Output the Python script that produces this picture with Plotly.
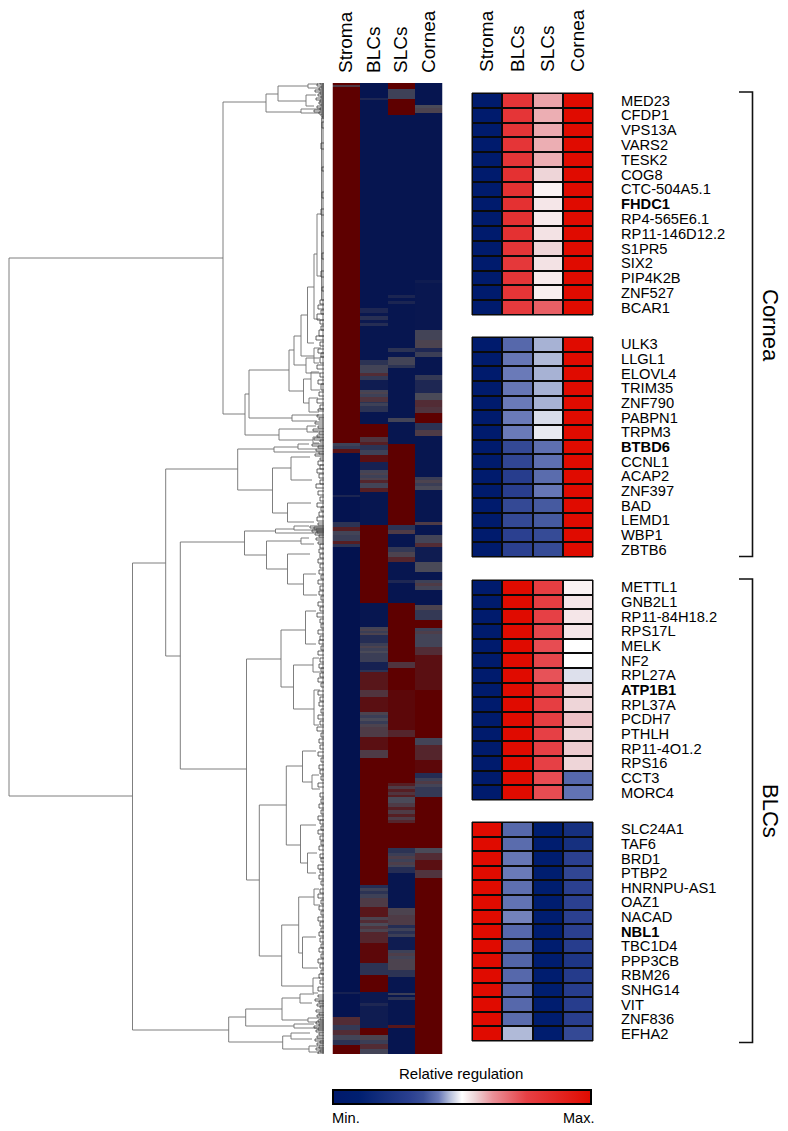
import plotly.graph_objects as go

W, H = 788, 1131
conditions = ["Stroma", "BLCs", "SLCs", "Cornea"]

# ---- overview heatmap: runs of (last row, relative level 0 = down, 1 = up)
stroma_runs = [(2,1),(4,.62),(360,1),(363,.42),(366,.35),(370,.88),(412,.02),(414,.18),(439,.03),(444,.3),(448,.8),(452,.45),(458,.4),(461,.8),(464,.3),(909,.02),(911,.15),(934,.03),(942,.7),(947,.35),(952,.7),(957,.45),(962,.3),(971,1)]
blcs_runs = [(15,.04),(17,.2),(225,.04),(230,.2),(233,.07),(237,.28),(240,.08),(243,.25),(277,.05),(282,.3),(290,.45),(293,.7),(297,.35),(307,.1),(309,.45),(311,.55),(314,.42),(319,.65),(320,.3),(323,.42),(329,.3),(341,.05),(354,1),(359,.65),(362,.8),(367,.3),(372,.42),(379,.9),(387,.15),(390,.45),(392,.55),(395,.42),(397,.55),(400,.75),(405,.45),(409,.8),(442,.05),(520,1),(544,.05),(546,.45),(548,.55),(550,.4),(552,.55),(560,.25),(563,.4),(565,.55),(568,.42),(570,.5),(579,.4),(587,.15),(589,.3),(607,.85),(614,.65),(629,.9),(632,.55),(635,.4),(638,.5),(641,.38),(644,.55),(654,.6),(667,.9),(675,.6),(802,1),(805,.25),(808,.42),(811,.3),(815,.42),(824,.6),(834,.85),(837,.55),(840,.7),(843,.5),(846,.65),(849,.55),(860,.75),(880,.95),(892,.3),(909,1),(920,.08),(923,.2),(945,.1),(952,1),(957,.55),(961,.4),(966,.7),(971,.45)]
slcs_runs = [(6,1),(16,.42),(32,1),(212,.04),(215,.18),(218,.05),(221,.18),(265,.05),(269,.3),(274,.06),(282,.45),(285,.3),(335,.05),(339,.45),(361,.05),(442,1),(447,.3),(451,.6),(464,.05),(469,.35),(474,.55),(479,.75),(497,.05),(500,.2),(520,.04),(579,1),(585,.65),(607,1),(647,.95),(654,.75),(700,1),(703,.8),(706,.6),(709,.8),(712,.65),(714,.8),(720,.5),(724,.6),(727,.8),(731,.6),(734,.8),(737,.6),(740,.75),(765,1),(770,.3),(773,.4),(776,.58),(779,.42),(782,.58),(784,.45),(790,.25),(825,.05),(832,.55),(842,.6),(845,.25),(848,.42),(851,.28),(854,.4),(867,.1),(870,.42),(873,.58),(876,.45),(880,.55),(887,.55),(894,.3),(910,.05),(912,.4),(914,.05),(917,.3),(942,.05),(945,.85),(971,.04)]
cornea_runs = [(22,.04),(25,.5),(30,.55),(197,.04),(200,.1),(247,.06),(257,.45),(265,.55),(269,.2),(274,.4),(277,.05),(292,.05),(297,.35),(310,.2),(317,.5),(324,.7),(330,.65),(340,1),(347,.3),(353,.6),(394,.05),(397,.4),(400,.55),(403,.4),(407,.5),(439,.05),(442,.6),(452,.05),(460,.45),(464,.7),(479,.1),(489,.5),(497,.05),(500,.42),(503,.6),(507,.45),(522,.04),(527,.55),(537,.35),(545,1),(548,.42),(551,.58),(555,.45),(564,.45),(572,.7),(607,.9),(655,1),(662,.45),(677,.75),(690,.95),(695,.25),(698,.42),(701,.6),(704,.45),(714,.35),(765,1),(770,.5),(777,.7),(787,.9),(795,.65),(971,1)]

# ---- dendrogram merges: (height, top row, top child height, bottom row, bottom child height)
merges = [
 (315,175,101,713,191.5),(101,19,58,331,79),(58,11,46,29,23),(46,3,16,18,18),(16,1,6,5,4),(18,12,8,23,10),(23,26,3,30,5),
 (79,311,75,352,45),(75,287,35,335,32),(35,267,30,308,20.5),(30,253,23,282,18),(23,232,16.5,273,10),(16.5,204,10,260,10),
 (10,171,7,236,4),(7,131,2.5,193,2.5),(2.5,35,0,217,0),(18,275,5,290,4),(10,265,3,280,5),(20.5,296,13,320,15),(13,289,5,307,4),
 (15,315,6,329,5),(32,332,5,338,7),(45,346,17,357,11),(17,343,8,349,6),(11,354,4,360,5),
 (191.5,480,158.3,947,95.3),(158.3,386,86.3,573,143.7),(86.3,366,50,407,51.5),(50,364,26,369,5),(26,361,15,366,8),
 (51.5,385,33,430,36.5),(33,374,14,397,12),(36.5,420,13,439,10),(143.7,459,79.5,686,77.5),(79.5,448,48.5,472,57.5),
 (48.5,446,30,450,10),(30,443,15,447,9),(57.5,458,23,486,36.5),(23,455,15,461,10),(36.5,471,14,501,20.5),(20.5,491,8,512,7),
 (77.5,576,43,797,64.7),(43,547,18.5,604,30.5),(18.5,528,8,561,8),(30.5,582,11,626,10),(11,575,5,589,4),(10,607,4,642,5),
 (64.7,722,37.7,873,42.3),(37.7,683,21.5,762,23.5),(21.5,668,8,699,12),(12,692,5,706,4),(23.5,742,8,780,16.5),(16.5,770,7,790,8),
 (42.3,842,25.3,903,11),(25.3,814,10,870,21.5),(21.5,854,8,885,6),(10,806,5,822,4),(11,895,4,910,6),
 (95.3,934,78.3,959,41.3),(78.3,926,42,943,30),(42,915,24,937,16),(24,911,10,920,12),(16,935,5,939,7),(30,941,10,945,7),
 (41.3,953,33,966,15),(33,950,14,956,12),(15,963,6,969,5),
]
# leaf-level forks: (row, half span, height)
leaf_forks = [
 (0,1,4),(2,1,7),(4,1,3),(6,1,5),(8,1,9),(10,1,4),(12,1,6),(14,1,3),(16,1,8),(18,1,4),(20,1,5),(22,1,3),(24,1,7),(26,1,4),(28,1,10),(30,1,5),(32,1,3),(34,1,2),
 (42,3,2),(63,3,3),(86,2,2),(112,3,2),(129,3,3),(151,2,2),(173,3,2),(191,3,3),(206,2,2),
 (219,2,4),(224,2,6),(229,2,3),(234,3,7),(239,2,4),(245,2,3),(250,3,5),(255,2,8),(261,2,4),(268,2,6),(272,2,3),(277,3,4),(284,2,7),(292,2,4),(299,2,6),(304,3,3),(311,2,5),(318,2,7),(324,2,4),(327,1,6),
 (333,1,7),(336,1,5),(340,1,9),(344,1,6),(347,1,11),(350,1,5),(353,1,7),(356,1,10),(358,1,4),(362,1,12),(364,1,6),(367,1,8),(370,1,5),(372,1,9),(376,1,4),(380,2,6),(384,2,4),(388,2,7),(393,2,5),(399,2,4),(403,2,8),(410,2,6),(416,2,4),(422,2,7),(426,2,3),(431,2,5),(436,2,7),(441,1,6),
 (444,1,14),(445,1,10),(447,1,8),(448,1,12),(449,1,7),(451,1,9),(453,1,5),(456,1,8),(460,1,6),(463,2,4),(468,2,5),(473,2,4),(478,2,6),(483,2,4),(489,2,5),(494,2,3),(499,2,6),(505,2,4),(510,2,5),(515,2,3),(521,2,6),(526,2,4),(532,2,7),(538,2,4),(543,2,3),(549,2,6),(555,2,4),(559,2,5),(565,2,3),(570,2,6),(577,2,4),(583,2,5),(587,2,3),(592,2,4),(597,2,6),(602,2,3),(610,2,6),(616,2,4),(621,2,5),(628,2,3),(634,2,6),(640,2,4),(646,2,7),(652,2,3),(658,2,5),(664,2,4),(671,2,6),(677,2,3),(684,2,5),(689,2,4),(695,2,3),(702,2,6),(712,2,4),(718,2,3),(723,2,5),(729,2,3),(735,2,6),(739,2,4),(745,2,3),(749,2,6),(755,2,4),(760,2,3),(765,2,5),(773,2,4),(777,2,3),(784,2,6),(788,2,4),(794,2,5),(800,2,3),(808,2,4),(813,2,6),(819,2,3),(825,2,5),(830,2,3),(836,2,6),(841,2,4),(847,2,3),(851,2,5),(857,2,4),(863,2,3),(867,2,5),(873,2,3),(878,2,6),(883,2,4),(889,2,3),(893,2,5),(899,2,4),(906,2,6),
 (913,1,6),(917,1,9),(919,1,5),(922,1,7),(924,1,4),(928,1,8),(931,1,5),(933,1,7),(936,1,4),(938,1,6),(940,1,8),(942,1,5),(944,1,10),(946,1,6),(948,1,8),(951,1,5),(954,1,7),(957,1,9),(959,1,4),(961,1,7),(964,1,5),(966,1,8),(968,1,4),(970,1,6),
]
# lowest merge, along the whole leaf edge: (height, first row, last row)
leaf_edge = (1, 0, 971)

# ---- detailed panels
genes_1 = ["MED23","CFDP1","VPS13A","VARS2","TESK2","COG8","CTC-504A5.1","<b>FHDC1</b>","RP4-565E6.1","RP11-146D12.2","S1PR5","SIX2","PIP4K2B","ZNF527","BCAR1"]
stroma_1 = [.03]*15
blcs_1 = [.8,.8,.8,.8,.8,.82,.82,.82,.82,.82,.8,.79,.8,.8,.78]
slcs_1 = [.6,.59,.595,.59,.59,.55,.515,.53,.525,.535,.55,.535,.525,.52,.7]
cornea_1 = [1]*15

genes_2 = ["ULK3","LLGL1","ELOVL4","TRIM35","ZNF790","PABPN1","TRPM3","<b>BTBD6</b>","CCNL1","ACAP2","ZNF397","BAD","LEMD1","WBP1","ZBTB6"]
stroma_2 = [.03]*15
blcs_2 = [.385,.405,.41,.405,.41,.41,.41,.33,.32,.28,.29,.33,.33,.3,.3]
slcs_2 = [.445,.45,.445,.445,.445,.475,.485,.395,.395,.39,.405,.365,.365,.335,.335]
cornea_2 = [1]*15

genes_3 = ["METTL1","GNB2L1","RP11-84H18.2","RPS17L","MELK","NF2","RPL27A","<b>ATP1B1</b>","RPL37A","PCDH7","PTHLH","RP11-4O1.2","RPS16","CCT3","MORC4"]
stroma_3 = [.03]*15
blcs_3 = [1]*15
slcs_3 = [.76,.76,.75,.74,.73,.74,.72,.76,.76,.76,.75,.75,.75,.73,.73]
cornea_3 = [.515,.53,.53,.53,.5,.5,.478,.55,.55,.57,.55,.56,.55,.385,.4]

genes_4 = ["SLC24A1","TAF6","BRD1","PTBP2","HNRNPU-AS1","OAZ1","NACAD","<b>NBL1</b>","TBC1D4","PPP3CB","RBM26","SNHG14","VIT","ZNF836","EFHA2"]
stroma_4 = [1]*15
blcs_4 = [.385,.39,.405,.41,.395,.4,.415,.385,.38,.38,.385,.385,.385,.39,.45]
slcs_4 = [.08,.07,.07,.08,.08,.07,.07,.07,.07,.07,.07,.08,.07,.07,.07]
cornea_4 = [.2,.2,.3,.32,.3,.3,.3,.3,.28,.24,.27,.28,.28,.29,.33]

panel_frames = [(472,593,93,315),(472,593,337,557),(472,593,580,800),(472,593,822,1041)]
panels = [(genes_1,stroma_1,blcs_1,slcs_1,cornea_1),(genes_2,stroma_2,blcs_2,slcs_2,cornea_2),
          (genes_3,stroma_3,blcs_3,slcs_3,cornea_3),(genes_4,stroma_4,blcs_4,slcs_4,cornea_4)]

font = "Liberation Sans, Arial, sans-serif"
overview_scale = [[0,"#00104f"],[.5,"#4a4a58"],[1,"#5e0000"]]
detail_scale = [[0,"#00196c"],[.1,"#001f70"],[.2,"#16307f"],[.3,"#2b4090"],[.35,"#3a4f98"],[.41,"#6a7ab8"],[.45,"#b0bad8"],
                [.49,"#f0f0f5"],[.5,"#ffffff"],[.55,"#eed5d8"],[.62,"#ea9098"],[.75,"#e64045"],[1,"#e00b00"]]

def fx(px): return px / W
def fy(py): return 1 - py / H

def expand(runs):
    out, start = [], 0
    for end, level in runs:
        out += [level] * (end - start)
        start = end
    return out

n_rows = stroma_runs[-1][0]
cols = [expand(stroma_runs), expand(blcs_runs), expand(slcs_runs), expand(cornea_runs)]
z_over = [[c[i] for c in cols] for i in range(n_rows)]

fig = go.Figure()

# dendrogram: upper merges
dx, dy = [], []
for h, r1, h1, r2, h2 in merges:
    dx += [h1, h, h, h2, None]
    dy += [r1, r1, r2, r2, None]
fig.add_trace(go.Scatter(x=dx, y=dy, mode="lines", line=dict(color="#707070", width=0.9),
                         hoverinfo="skip", showlegend=False, xaxis="x", yaxis="y"))
# dendrogram: leaf-level forks, darker because they pile up
lx, ly = [leaf_edge[0], leaf_edge[0], None], [leaf_edge[1], leaf_edge[2], None]
for r, s, h in leaf_forks:
    lx += [0, h, h, 0, None]
    ly += [r - s, r - s, r + s, r + s, None]
fig.add_trace(go.Scatter(x=lx, y=ly, mode="lines", line=dict(color="#3c3c3c", width=0.8),
                         hoverinfo="skip", showlegend=False, xaxis="x", yaxis="y"))

# overview heatmap
fig.add_trace(go.Heatmap(z=z_over, x=conditions, y=[i + .5 for i in range(n_rows)], zmin=0, zmax=1,
                         colorscale=overview_scale, showscale=False, xaxis="x2", yaxis="y2"))

layout = dict(
    width=W, height=H, margin=dict(l=0, r=0, t=0, b=0), showlegend=False,
    paper_bgcolor="white", plot_bgcolor="white", font=dict(family=font, color="black"),
    xaxis=dict(domain=[0, fx(324)], range=[324, 0], visible=False),
    yaxis=dict(domain=[fy(1054), fy(83)], range=[n_rows, 0], visible=False),
    xaxis2=dict(domain=[fx(332.5), fx(442.5)], side="top", anchor="y2", ticks="", showline=False, showgrid=False,
                tickangle=-90, tickfont=dict(size=19), ticklabelstandoff=9, zeroline=False),
    yaxis2=dict(domain=[fy(1054), fy(83)], range=[n_rows, 0], visible=False, anchor="x2"),
    coloraxis=dict(cmin=0, cmax=1, colorscale=detail_scale,
                   colorbar=dict(orientation="h", x=fx(333), xanchor="left", y=fy(1089.5), yanchor="top",
                                 len=258, lenmode="pixels", thickness=14, thicknessmode="pixels",
                                 outlinecolor="black", outlinewidth=2, showticklabels=False, ticks="",
                                 xpad=0, ypad=0)),
)

shapes = []
for i, ((x0, x1, y0, y1), (genes, a, b, c, d)) in enumerate(zip(panel_frames, panels)):
    n = i + 3
    xa, ya = f"xaxis{n}", f"yaxis{n}"
    fig.add_trace(go.Heatmap(z=[list(t) for t in zip(a, b, c, d)], x=conditions, y=genes, coloraxis="coloraxis",
                             xgap=2, ygap=2, xaxis=f"x{n}", yaxis=f"y{n}"))
    layout[xa] = dict(domain=[fx(x0), fx(x1)], anchor=f"y{n}", side="top", ticks="", showgrid=False, zeroline=False,
                      tickangle=-90, tickfont=dict(size=19), ticklabelstandoff=20, showticklabels=(i == 0))
    layout[ya] = dict(domain=[fy(y1), fy(y0)], anchor=f"x{n}", side="right", ticks="", showgrid=False, zeroline=False,
                      autorange="reversed", tickmode="array", tickvals=genes, ticktext=genes,
                      tickfont=dict(size=14.7), ticklabelstandoff=27, automargin=False)
    shapes.append(dict(type="rect", xref=f"x{n} domain", yref=f"y{n} domain", x0=0, x1=1, y0=0, y1=1, layer="below",
                       fillcolor="#0a0a0a", line=dict(color="#0a0a0a", width=1)))

# brackets
for top, bottom in [(92, 556.5), (579, 1042.5)]:
    shapes.append(dict(type="path", xref="paper", yref="paper",
                       path=f"M {fx(739)} {fy(top)} L {fx(752.5)} {fy(top)} L {fx(752.5)} {fy(bottom)} L {fx(739)} {fy(bottom)}",
                       line=dict(color="#111111", width=1.6)))
layout["shapes"] = shapes

def note(text, px, py, size, angle=0, anchor="center"):
    return dict(text=text, x=fx(px), y=fy(py), xref="paper", yref="paper", showarrow=False, font=dict(size=size),
                textangle=angle, xanchor=anchor, yanchor="middle")

layout["annotations"] = [
    note("Cornea", 771, 325, 22, 90),
    note("BLCs", 771, 811, 22, 90),
    note("Relative regulation", 460.5, 1073, 15),
    note("Min.", 345.5, 1118, 14.7),
    note("Max.", 578.5, 1118, 14.5),
]
fig.update_layout(**layout)
fig.write_html("out.html", config=dict(displayModeBar=False), post_script="document.body.style.margin='0';")
